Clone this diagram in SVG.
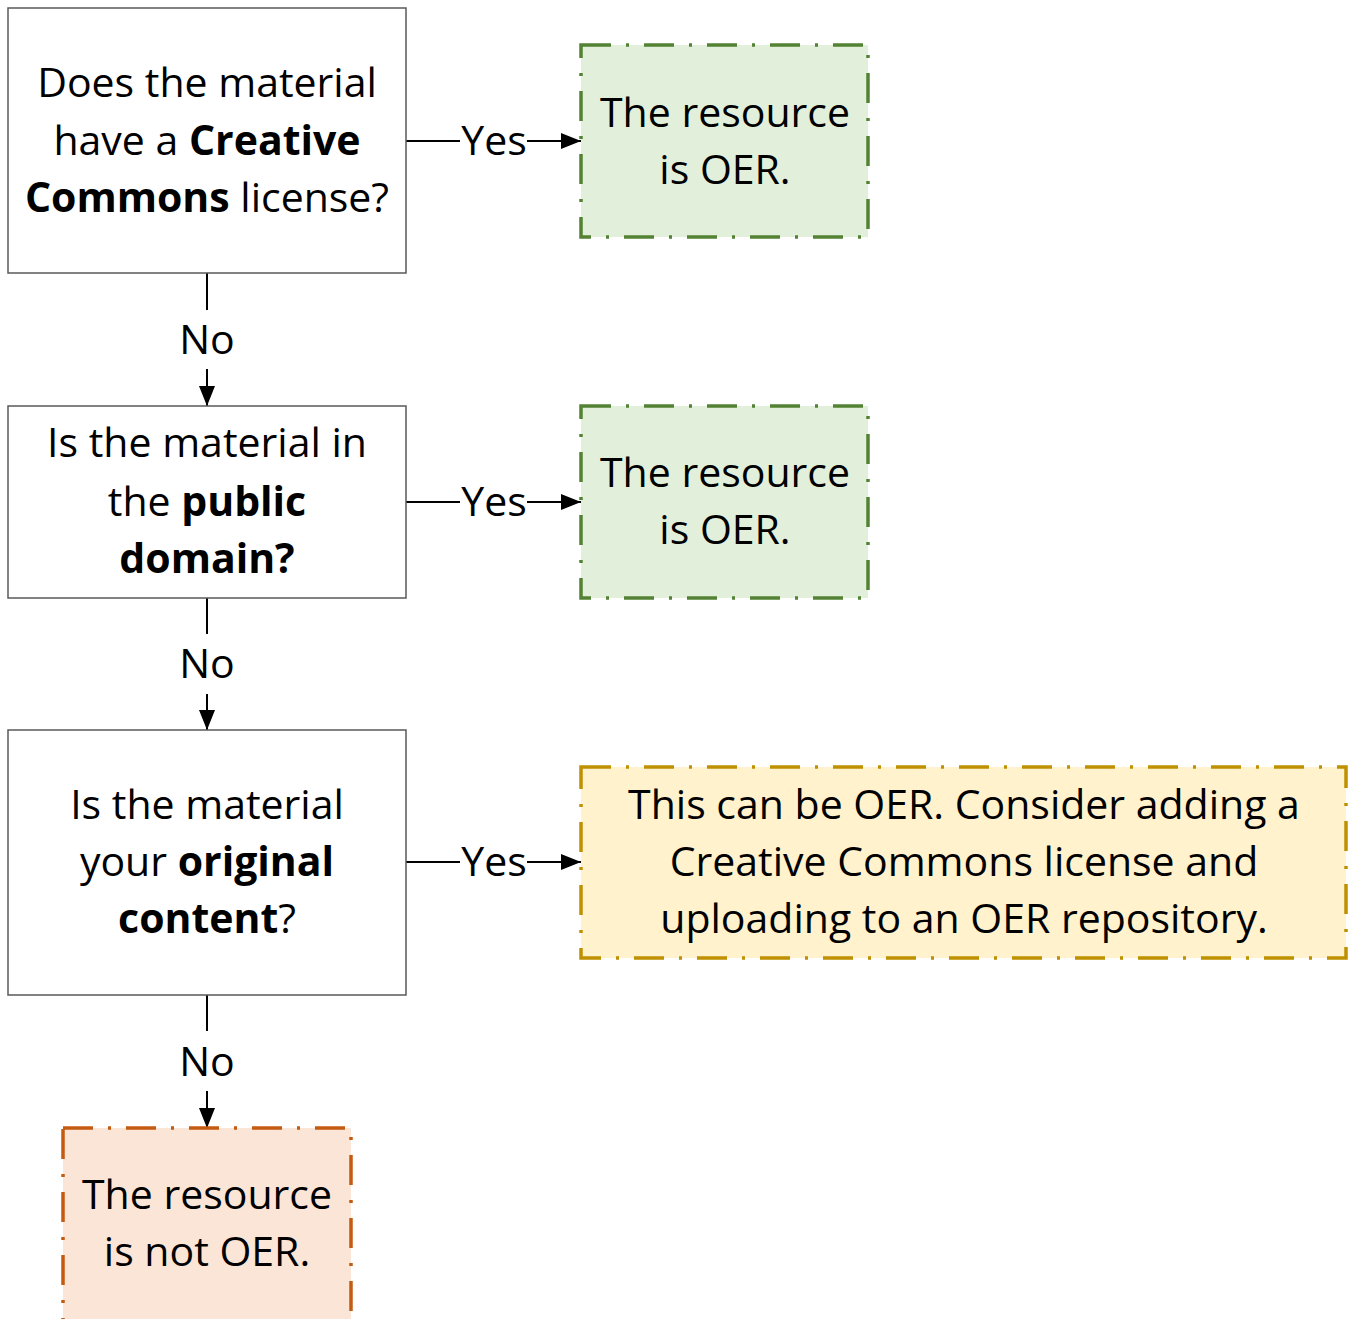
<svg xmlns="http://www.w3.org/2000/svg" width="1349" height="1319" viewBox="0 0 1349 1319">
<style>
text{font-family:"Open Sans","Noto Sans",sans-serif;font-size:41px;fill:#000;text-anchor:middle}
.b{font-weight:bold}
.q{fill:#fff;stroke:#595959;stroke-width:1.5}
.r{stroke-width:3.5;stroke-dasharray:30 15 3 15}
.g{fill:#e2efda;stroke:#548235}
.y{fill:#fff2cc;stroke:#bf9000}
.o{fill:#fbe5d6;stroke:#c55a11}
.c{stroke:#000;stroke-width:2;fill:none}
</style>
<defs>
<marker id="ah" markerWidth="20" markerHeight="18" refX="20" refY="9" viewBox="0 0 20 18" orient="auto" markerUnits="userSpaceOnUse">
<path d="M0,1 L20,9 L0,17 Z" fill="#000"/>
</marker>
</defs>
<rect width="1349" height="1319" fill="#fff"/>
<g id="connectors">
<line class="c" x1="406" y1="141" x2="460" y2="141"/>
<text x="494" y="155">Yes</text>
<line class="c" x1="527" y1="141" x2="581" y2="141" marker-end="url(#ah)"/>
<line class="c" x1="406" y1="502" x2="460" y2="502"/>
<text x="494" y="516">Yes</text>
<line class="c" x1="527" y1="502" x2="581" y2="502" marker-end="url(#ah)"/>
<line class="c" x1="406" y1="862" x2="460" y2="862"/>
<text x="494" y="876">Yes</text>
<line class="c" x1="527" y1="862" x2="581" y2="862" marker-end="url(#ah)"/>
<line class="c" x1="207" y1="273" x2="207" y2="310"/>
<text x="207" y="354">No</text>
<line class="c" x1="207" y1="369" x2="207" y2="406" marker-end="url(#ah)"/>
<line class="c" x1="207" y1="598" x2="207" y2="634"/>
<text x="207" y="678">No</text>
<line class="c" x1="207" y1="694" x2="207" y2="730" marker-end="url(#ah)"/>
<line class="c" x1="207" y1="995" x2="207" y2="1031"/>
<text x="207" y="1076">No</text>
<line class="c" x1="207" y1="1091" x2="207" y2="1128" marker-end="url(#ah)"/>
</g>
<g id="q1">
<rect class="q" x="8" y="8" width="398" height="265"/>
<text x="207" y="97">Does the material</text>
<text x="207" y="155">have a <tspan class="b">Creative</tspan></text>
<text x="207" y="212"><tspan class="b">Commons</tspan> license?</text>
</g>
<g id="q2">
<rect class="q" x="8" y="406" width="398" height="192"/>
<text x="207" y="457">Is the material in</text>
<text x="207" y="516">the <tspan class="b">public</tspan></text>
<text x="207" y="573" class="b">domain?</text>
</g>
<g id="q3">
<rect class="q" x="8" y="730" width="398" height="265"/>
<text x="207" y="819">Is the material</text>
<text x="207" y="876">your <tspan class="b">original</tspan></text>
<text x="207" y="933"><tspan class="b">content</tspan>?</text>
</g>
<g id="a1">
<rect class="r g" x="581" y="45" width="287" height="192"/>
<text x="725" y="127">The resource</text>
<text x="725" y="184">is OER.</text>
</g>
<g id="a2">
<rect class="r g" x="581" y="406" width="287" height="192"/>
<text x="725" y="487">The resource</text>
<text x="725" y="544">is OER.</text>
</g>
<g id="a3">
<rect class="r y" x="581" y="767" width="765" height="191"/>
<text x="964" y="819">This can be OER. Consider adding a</text>
<text x="964" y="876">Creative Commons license and</text>
<text x="964" y="933">uploading to an OER repository.</text>
</g>
<g id="a4">
<rect class="r o" x="63" y="1128" width="288" height="200"/>
<text x="207" y="1209">The resource</text>
<text x="207" y="1266">is not OER.</text>
</g>
</svg>
